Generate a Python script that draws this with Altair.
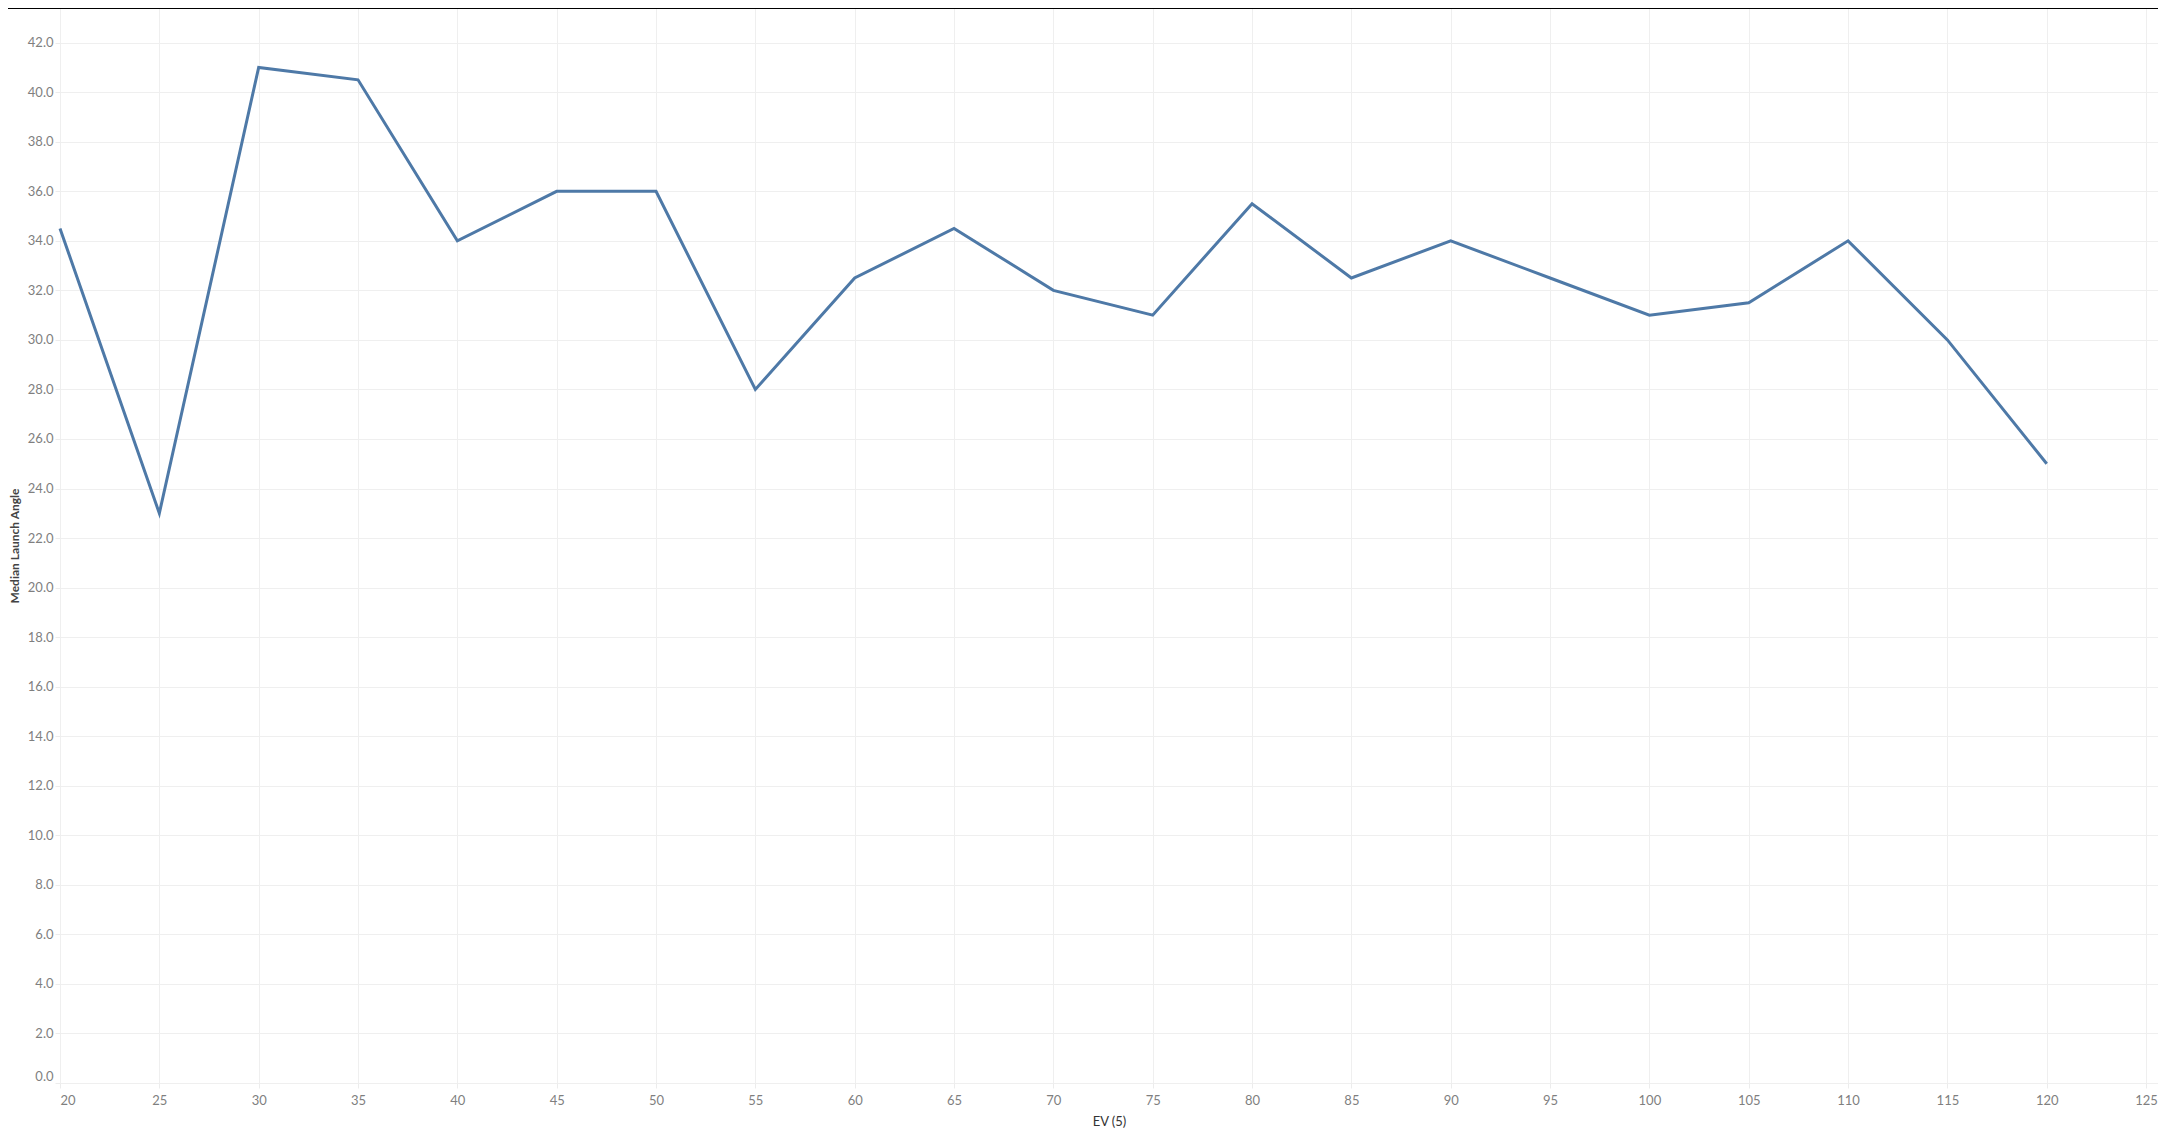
import altair as alt
import pandas as pd

ev = [20, 25, 30, 35, 40, 45, 50, 55, 60, 65, 70, 75, 80, 85, 90, 95, 100, 105, 110, 115, 120]
angle = [34.5, 23.0, 41.0, 40.5, 34.0, 36.0, 36.0, 28.0, 32.5, 34.5, 32.0, 31.0, 35.5, 32.5, 34.0, 32.5, 31.0, 31.5, 34.0, 30.0, 25.0]
x_ticks = list(range(20, 130, 5))
y_ticks = [i * 2 for i in range(22)]

df = pd.DataFrame({"ev": ev, "angle": angle})

W, H = 2098, 1075
FONT = "Lato"

x = alt.X("ev:Q", title="EV (5)",
          scale=alt.Scale(domain=[20, 125.6], nice=False, zero=False),
          axis=alt.Axis(values=x_ticks, labelFlush=True, labelFontSize=13, labelColor="#7f7f7f",
                        labelFont=FONT, tickSize=5, tickColor="#ececec", labelPadding=6,
                        gridColor="#efefef", domain=False, titleFont=FONT, titleFontSize=13,
                        titleFontWeight="normal", titleColor="#333333", titlePadding=8,
                        labelOverlap=False))
y = alt.Y("angle:Q", title="Median Launch Angle",
          scale=alt.Scale(domain=[0, 43.4], nice=False),
          axis=alt.Axis(values=y_ticks, format=".1f", labelFlush=True, labelFontSize=13,
                        labelColor="#7f7f7f", labelFont=FONT, tickSize=5, tickColor="#ececec",
                        labelPadding=2, gridColor="#efefef", domain=False, titleFont=FONT,
                        titleFontSize=12, titleFontWeight="bold", titleColor="#444444",
                        titleX=-39, titleBaseline="bottom", labelOverlap=False))

line = alt.Chart(df).mark_line(color="#4e79a7", strokeWidth=3).encode(x=x, y=y)

top = alt.Chart(df).mark_rule(color="#000000", strokeWidth=2).encode(
    x=alt.value(-52), x2=alt.value(W), y=alt.value(0))

chart = alt.layer(line, top).properties(
    width=W, height=H, autosize="none",
    padding={"left": 52, "top": 0, "right": 0, "bottom": 52},
).configure_view(stroke=None)

chart.save("out.html", embed_options={"renderer": "svg", "actions": False})
